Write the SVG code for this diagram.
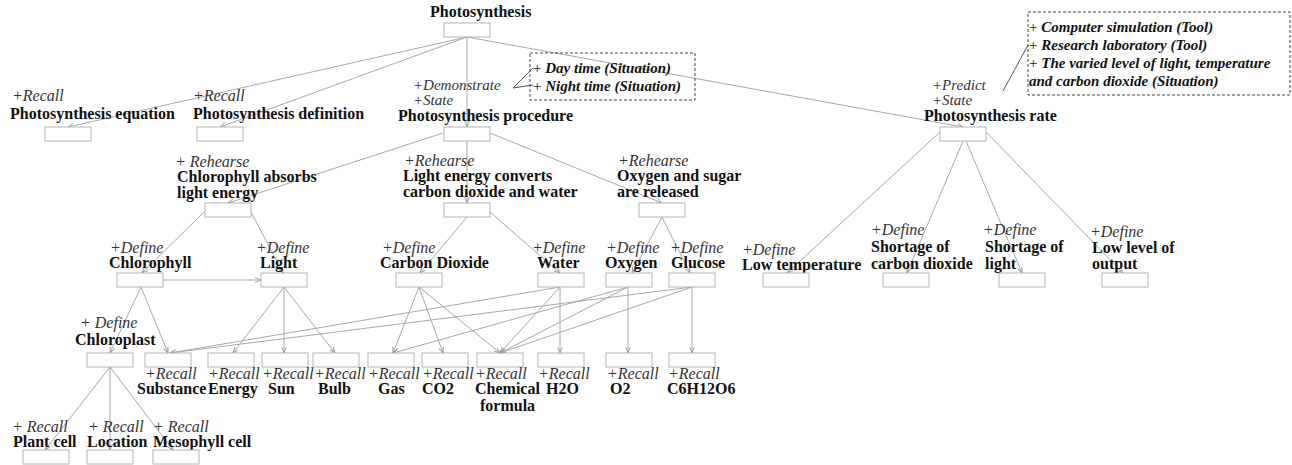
<svg xmlns="http://www.w3.org/2000/svg" width="1292" height="465" viewBox="0 0 1292 465">
<style>
.b{fill:#fff;stroke:#b4b4b4;stroke-width:1}
.t{font-family:"Liberation Serif",serif;font-size:16px;font-weight:bold;fill:#111}
.i{font-family:"Liberation Serif",serif;font-size:16px;font-style:italic;fill:#333}
.j{font-family:"Liberation Serif",serif;font-size:15px;font-style:italic;fill:#333}
.s{font-family:"Liberation Serif",serif;font-size:15px;font-style:italic;font-weight:bold;fill:#111}
.p{font-style:normal;font-weight:normal}
.c{fill:none;stroke:#a8a8a8;stroke-width:1;marker-end:url(#arr)}
.d{fill:none;stroke:#444;stroke-width:1;stroke-dasharray:3 2}
.k{fill:none;stroke:#555;stroke-width:1}
</style>
<defs>
<marker id="arr" viewBox="0 0 10 10" refX="10" refY="5" markerWidth="6" markerHeight="6" orient="auto" markerUnits="userSpaceOnUse">
<path d="M0,1 L10,5 L0,9" fill="none" stroke="#888" stroke-width="1.3"/>
</marker>
</defs>
<rect width="1292" height="465" fill="#fff"/>
<g id="connectors">
<path class="c" d="M467,37 L68,127"/>
<path class="c" d="M467,37 L220,127"/>
<path class="c" d="M467,37 L467,127"/>
<path class="c" d="M467,37 L963,127"/>
<path class="c" d="M443,133 L228,203"/>
<path class="c" d="M467,141 L467,203"/>
<path class="c" d="M490,133 L662,203"/>
<path class="c" d="M940,132 L787,273"/>
<path class="c" d="M963,141 L907,273"/>
<path class="c" d="M966,141 L1022,273"/>
<path class="c" d="M987,133 L1123,273"/>
<path class="c" d="M204,212 L142,273"/>
<path class="c" d="M251,212 L283,273"/>
<path class="c" d="M163,280 L261,280"/>
<path class="c" d="M467,217 L420,273"/>
<path class="c" d="M490,212 L560,273"/>
<path class="c" d="M662,217 L632,273"/>
<path class="c" d="M662,217 L690,273"/>
<path class="c" d="M141,287 L110,353"/>
<path class="c" d="M141,287 L168,353"/>
<path class="c" d="M284,287 L233,353"/>
<path class="c" d="M284,287 L284,353"/>
<path class="c" d="M284,287 L335,353"/>
<path class="c" d="M419,287 L393,353"/>
<path class="c" d="M419,287 L443,353"/>
<path class="c" d="M419,287 L500,353"/>
<path class="c" d="M560,287 L170,353"/>
<path class="c" d="M560,287 L500,353"/>
<path class="c" d="M560,287 L560,353"/>
<path class="c" d="M628,287 L393,353"/>
<path class="c" d="M628,287 L500,353"/>
<path class="c" d="M628,287 L628,353"/>
<path class="c" d="M692,287 L170,353"/>
<path class="c" d="M692,287 L500,353"/>
<path class="c" d="M692,287 L692,353"/>
<path class="c" d="M110,367 L45,450"/>
<path class="c" d="M110,367 L110,450"/>
<path class="c" d="M110,367 L173,450"/>
<path class="k" d="M533,68 L513,88 L533,85"/>
<path class="k" d="M1003,91 L1028,45"/>
</g>
<g id="situation1">
<rect class="d" x="530" y="53" width="165" height="47"/>
<text class="s" x="533" y="73"><tspan class="p">+ </tspan>Day time (Situation)</text>
<text class="s" x="533" y="91"><tspan class="p">+ </tspan>Night time (Situation)</text>
</g>
<g id="situation2">
<rect class="d" x="1028" y="12" width="262" height="83"/>
<text class="s" x="1029" y="32"><tspan class="p">+ </tspan>Computer simulation (Tool)</text>
<text class="s" x="1029" y="50"><tspan class="p">+ </tspan>Research laboratory (Tool)</text>
<text class="s" x="1029" y="68"><tspan class="p">+ </tspan>The varied level of light, temperature</text>
<text class="s" x="1029" y="86">and carbon dioxide (Situation)</text>
</g>
<g id="n-photosynthesis"><text class="t" x="430" y="17">Photosynthesis</text><rect class="b" x="444" y="23" width="46" height="14"/></g>
<g id="n-equation"><text class="i" x="12" y="101">+Recall</text><text class="t" x="10" y="119">Photosynthesis equation</text><rect class="b" x="45" y="127" width="46" height="14"/></g>
<g id="n-definition"><text class="i" x="193" y="101">+Recall</text><text class="t" x="193" y="119">Photosynthesis definition</text><rect class="b" x="197" y="127" width="46" height="14"/></g>
<g id="n-procedure"><text class="j" x="413" y="90">+Demonstrate</text><text class="j" x="413" y="105">+State</text><text class="t" x="398" y="121">Photosynthesis procedure</text><rect class="b" x="444" y="127" width="46" height="14"/></g>
<g id="n-rate"><text class="j" x="932" y="90">+Predict</text><text class="j" x="932" y="105">+State</text><text class="t" x="924" y="121">Photosynthesis rate</text><rect class="b" x="940" y="127" width="46" height="14"/></g>
<g id="n-absorbs"><text class="i" x="175" y="167">+ Rehearse</text><text class="t" x="177" y="182">Chlorophyll absorbs</text><text class="t" x="177" y="198">light energy</text><rect class="b" x="205" y="203" width="46" height="14"/></g>
<g id="n-converts"><text class="i" x="404" y="166">+Rehearse</text><text class="t" x="403" y="181">Light energy converts</text><text class="t" x="403" y="197">carbon dioxide and water</text><rect class="b" x="444" y="203" width="46" height="14"/></g>
<g id="n-released"><text class="i" x="618" y="166">+Rehearse</text><text class="t" x="617" y="181">Oxygen and sugar</text><text class="t" x="617" y="197">are released</text><rect class="b" x="639" y="203" width="46" height="14"/></g>
<g id="n-chlorophyll"><text class="i" x="110" y="253">+Define</text><text class="t" x="109" y="268">Chlorophyll</text><rect class="b" x="117" y="273" width="46" height="14"/></g>
<g id="n-light"><text class="i" x="256" y="253">+Define</text><text class="t" x="260" y="268">Light</text><rect class="b" x="261" y="273" width="46" height="14"/></g>
<g id="n-carbondioxide"><text class="i" x="382" y="253">+Define</text><text class="t" x="380" y="268">Carbon Dioxide</text><rect class="b" x="396" y="273" width="46" height="14"/></g>
<g id="n-water"><text class="i" x="532" y="253">+Define</text><text class="t" x="537" y="268">Water</text><rect class="b" x="538" y="273" width="46" height="14"/></g>
<g id="n-oxygen"><text class="i" x="606" y="253">+Define</text><text class="t" x="605" y="268">Oxygen</text><rect class="b" x="606" y="273" width="46" height="14"/></g>
<g id="n-glucose"><text class="i" x="670" y="253">+Define</text><text class="t" x="671" y="268">Glucose</text><rect class="b" x="669" y="273" width="46" height="14"/></g>
<g id="n-lowtemp"><text class="i" x="742" y="255">+Define</text><text class="t" x="742" y="270">Low temperature</text><rect class="b" x="763" y="273" width="46" height="14"/></g>
<g id="n-shortco2"><text class="i" x="871" y="235">+Define</text><text class="t" x="871" y="252">Shortage of</text><text class="t" x="871" y="269">carbon dioxide</text><rect class="b" x="883" y="273" width="46" height="14"/></g>
<g id="n-shortlight"><text class="i" x="983" y="235">+Define</text><text class="t" x="985" y="252">Shortage of</text><text class="t" x="985" y="269">light</text><rect class="b" x="999" y="273" width="46" height="14"/></g>
<g id="n-lowoutput"><text class="i" x="1090" y="237">+Define</text><text class="t" x="1092" y="253">Low level of</text><text class="t" x="1092" y="269">output</text><rect class="b" x="1102" y="273" width="46" height="14"/></g>
<g id="n-chloroplast"><text class="i" x="80" y="328">+ Define</text><text class="t" x="75" y="345">Chloroplast</text><rect class="b" x="87" y="353" width="46" height="14"/></g>
<g id="n-substance"><rect class="b" x="145" y="353" width="46" height="14"/><text class="i" x="145" y="379">+Recall</text><text class="t" x="137" y="394">Substance</text></g>
<g id="n-energy"><rect class="b" x="208" y="353" width="46" height="14"/><text class="i" x="208" y="379">+Recall</text><text class="t" x="208" y="394">Energy</text></g>
<g id="n-sun"><rect class="b" x="262" y="353" width="46" height="14"/><text class="i" x="262" y="379">+Recall</text><text class="t" x="268" y="394">Sun</text></g>
<g id="n-bulb"><rect class="b" x="313" y="353" width="46" height="14"/><text class="i" x="314" y="379">+Recall</text><text class="t" x="318" y="394">Bulb</text></g>
<g id="n-gas"><rect class="b" x="368" y="353" width="46" height="14"/><text class="i" x="368" y="379">+Recall</text><text class="t" x="378" y="394">Gas</text></g>
<g id="n-co2"><rect class="b" x="422" y="353" width="46" height="14"/><text class="i" x="422" y="379">+Recall</text><text class="t" x="422" y="394">CO2</text></g>
<g id="n-chemical"><rect class="b" x="477" y="353" width="46" height="14"/><text class="i" x="475" y="379">+Recall</text><text class="t" x="475" y="394">Chemical</text><text class="t" x="480" y="411">formula</text></g>
<g id="n-h2o"><rect class="b" x="538" y="353" width="46" height="14"/><text class="i" x="538" y="379">+Recall</text><text class="t" x="546" y="394">H2O</text></g>
<g id="n-o2"><rect class="b" x="606" y="353" width="46" height="14"/><text class="i" x="607" y="379">+Recall</text><text class="t" x="610" y="394">O2</text></g>
<g id="n-c6h12o6"><rect class="b" x="669" y="353" width="46" height="14"/><text class="i" x="668" y="379">+Recall</text><text class="t" x="667" y="394">C6H12O6</text></g>
<g id="n-plantcell"><text class="i" x="12" y="432">+ Recall</text><text class="t" x="13" y="447">Plant cell</text><rect class="b" x="23" y="450" width="46" height="14"/></g>
<g id="n-location"><text class="i" x="88" y="432">+ Recall</text><text class="t" x="87" y="447">Location</text><rect class="b" x="87" y="450" width="46" height="14"/></g>
<g id="n-mesophyll"><text class="i" x="153" y="432">+ Recall</text><text class="t" x="153" y="447">Mesophyll cell</text><rect class="b" x="153" y="450" width="46" height="14"/></g>
</svg>
